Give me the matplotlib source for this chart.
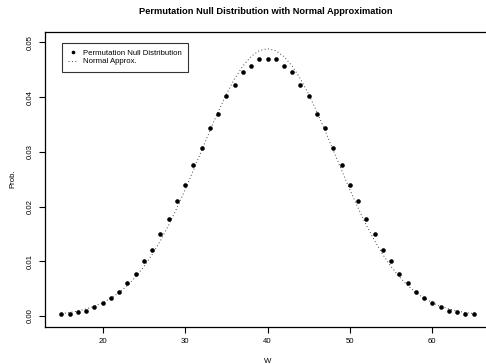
import matplotlib
matplotlib.use("Agg")
import matplotlib.pyplot as plt
import numpy as np

# Exact permutation null distribution of W (counts out of 3003 arrangements)
w_values = list(range(15, 66))
half_counts = [1, 1, 2, 3, 5, 7, 10, 13, 18, 23, 30, 36, 45, 53, 63, 72, 83,
               92, 103, 111, 121, 127, 134, 137, 141]
counts = half_counts + [141] + half_counts[::-1]
total = 3003

# Normal approximation density evaluated at each W
normal_half = [0.00045, 0.00065, 0.00092, 0.00130, 0.00179, 0.00243, 0.00326,
               0.00430, 0.00559, 0.00716, 0.00904, 0.01123, 0.01376, 0.01659,
               0.01972, 0.02308, 0.02662, 0.03023, 0.03383, 0.03730, 0.04051,
               0.04334, 0.04567, 0.04742, 0.04850]
normal_vals = normal_half + [0.04886] + normal_half[::-1]

x_ticks = [20, 30, 40, 50, 60]
y_ticks = [0.00, 0.01, 0.02, 0.03, 0.04, 0.05]
y_tick_labels = ["0.00", "0.01", "0.02", "0.03", "0.04", "0.05"]

plt.rcParams['font.family'] = ['Liberation Sans', 'DejaVu Sans']

W, H = 486, 364
fig = plt.figure(figsize=(W / 100, H / 100), dpi=100)
left, right, top, bottom = 45, 490, 31.5, 327
ax = fig.add_axes([left / W, 1 - bottom / H, (right - left) / W, (bottom - top) / H])

probs = np.array(counts) / total
ax.plot(w_values, probs, 'o', color='black', markersize=3.3, markeredgewidth=0,
        label='Permutation Null Distribution', zorder=3)
ax.plot(w_values, normal_vals, linestyle=(0, (1, 2.5)), color='#444444', linewidth=0.7,
        label='Normal Approx.')

ax.set_xlim(13, 67)
ax.set_ylim(-0.002, 0.052)

ax.set_xticks(x_ticks)
ax.set_xticklabels([str(t) for t in x_ticks], fontsize=5.6)
ax.set_yticks(y_ticks)
ax.set_yticklabels(y_tick_labels, fontsize=5.6, rotation=90, va='center')
ax.tick_params(axis='both', length=4, width=0.8, pad=4)

for s in ['top', 'bottom', 'left', 'right']:
    ax.spines[s].set_linewidth(0.9)

ax.set_xlabel('W', fontsize=5.6, labelpad=9)
ax.set_ylabel('Prob.', fontsize=5.6, labelpad=7.5)

fig.text(266 / W, 1 - 12 / H, 'Permutation Null Distribution with Normal Approximation',
         fontsize=6.7, fontweight='bold', ha='center', va='center')

leg = ax.legend(loc='upper left', bbox_to_anchor=((62 - left) / (right - left), 1 - (43 - top) / (bottom - top)),
                fontsize=5.6, frameon=True, fancybox=False, edgecolor='black',
                borderpad=0.8, handlelength=1.1, handletextpad=0.8, labelspacing=0.15,
                borderaxespad=0, markerscale=0.8)
leg.get_frame().set_linewidth(0.8)

fig.savefig('out.png', dpi=100)
